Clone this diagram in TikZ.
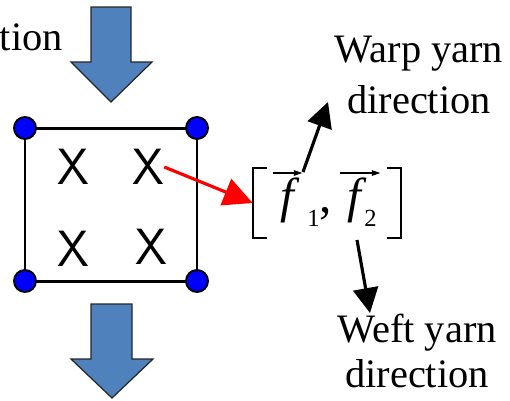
\documentclass[tikz,border=0pt]{standalone}
\usepackage{fontspec}
\newfontfamily\labelfont{Liberation Serif}
\usetikzlibrary{arrows.meta}
\definecolor{blockblue}{HTML}{4F81BD}
\definecolor{dotblue}{HTML}{0000FF}

\begin{document}
\begin{tikzpicture}[x=0.02cm,y=-0.02cm,
  labeltext/.style={font=\labelfont\fontsize{23}{29}\selectfont,inner sep=0pt},
  vecf/.style={font=\labelfont\itshape\fontsize{28}{28}\selectfont,inner sep=0pt},
  vecsub/.style={font=\labelfont\fontsize{14}{14}\selectfont,inner sep=0pt},
  vecarrow/.style={-{Triangle[length=0.17cm,width=0.11cm]},line width=0.6pt},
  bracket/.style={line width=1.2pt},
  blockarrow/.style={fill=blockblue,draw=black!85,line width=0.7pt,line join=miter},
  corner/.style={circle,fill=dotblue,draw=black,line width=1.1pt,minimum size=0.44cm,inner sep=0pt},
  gauss/.style={font=\sffamily\fontsize{29}{29}\selectfont,inner sep=0pt},
  dirarrow/.style={-{Triangle[length=0.5cm,width=0.5cm]},line width=1.8pt}]
\useasboundingbox (0,0) rectangle (510,400);
% Left: load arrows and the element
\node[labeltext,anchor=base east] (load) at (63,50) {ction};
\draw[blockarrow] (91,7) -- (131,7) -- (131,62) -- (152,62) -- (111,102) -- (71,62) -- (91,62) -- cycle;
\draw[blockarrow] (91,304) -- (132,304) -- (132,359) -- (153,359) -- (112,398) -- (71,359) -- (91,359) -- cycle;
\draw[line width=1.7pt] (25,128) rectangle (197,281);
\foreach \n/\x/\y in {c1/25/128,c2/197/128,c3/25/281,c4/197/281} {
  \node[corner] (\n) at (\x,\y) {};
}
\foreach \n/\x/\y in {g1/73/167,g2/148/167,g3/73/249,g4/151/247} {
  \node[gauss] (\n) at (\x,\y) {X};
}
% Right: fibre vectors in brackets
\node[minimum width=2.96cm,minimum height=1.4cm,inner sep=0pt] (vec) at (327,203) {};
\draw[bracket] ([xshift=0.28cm]vec.north west) -- (vec.north west) -- (vec.south west) -- ([xshift=0.28cm]vec.south west);
\draw[bracket] ([xshift=-0.28cm]vec.north east) -- (vec.north east) -- (vec.south east) -- ([xshift=-0.28cm]vec.south east);
\node[vecf,anchor=base west] (f1) at (280,212) {f};
\node[vecsub,anchor=base west] (s1) at (307,226) {1};
\node[labeltext,font=\labelfont\fontsize{28}{28}\selectfont,anchor=base west] (comma) at (319,212) {,};
\node[vecf,anchor=base west] (f2) at (347,212) {f};
\node[vecsub,anchor=base west] (s2) at (364,226) {2};
\draw[vecarrow] ([xshift=-0.14cm,yshift=0.08cm]f1.north west) -- ([xshift=0.16cm,yshift=0.08cm]f1.north east);
\draw[vecarrow] ([xshift=-0.14cm,yshift=0.08cm]f2.north west) -- ([xshift=0.38cm,yshift=0.08cm]f2.north east);
\draw[-{Triangle[length=0.58cm,width=0.56cm]},line width=1.8pt,red] (g2.east) -- (vec.west);
% yarn directions
\node[labeltext,align=center,font=\labelfont\fontsize{23}{29.5}\selectfont] (warp) at (419,75) {Warp yarn\\direction};
\node[labeltext,align=center,font=\labelfont\fontsize{23}{26}\selectfont] (weft) at (417,351) {Weft yarn\\direction};
\coordinate (warpfoot) at (303,172);
\coordinate (warptip) at (328,102);
\coordinate (weftfoot) at (357,240);
\coordinate (wefttip) at (370,313);
\draw[dirarrow] (warpfoot) -- (warptip);
\draw[dirarrow] (weftfoot) -- (wefttip);
\end{tikzpicture}
\end{document}
